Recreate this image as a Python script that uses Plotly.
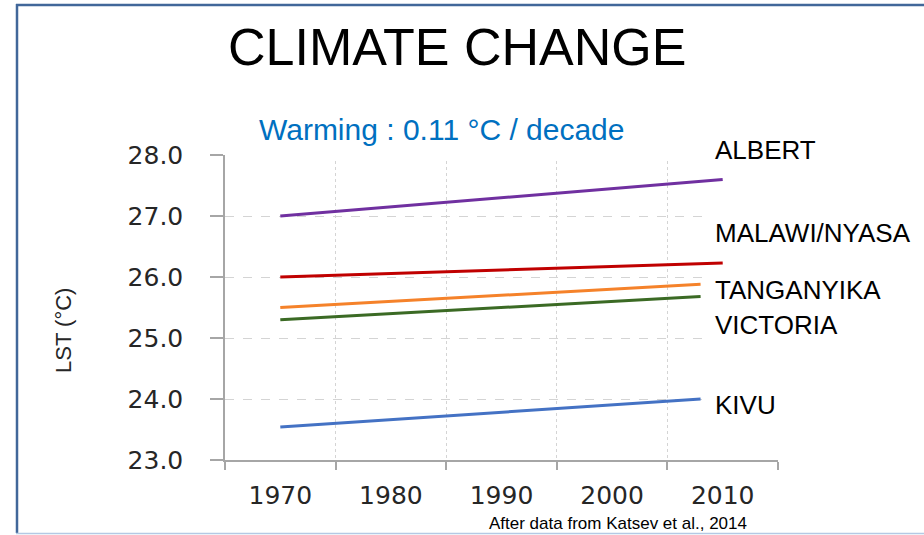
import plotly.graph_objects as go

# ---- data ----
lakes = ["ALBERT", "MALAWI/NYASA", "TANGANYIKA", "VICTORIA", "KIVU"]
start_year = [1970, 1970, 1970, 1970, 1970]
end_year = [2010, 2010, 2008, 2008, 2008]
lst_start = [27.0, 26.0, 25.5, 25.3, 23.54]
lst_end = [27.6, 26.23, 25.88, 25.68, 24.0]
colors = ["#7030A0", "#C00000", "#F5822A", "#3B6A24", "#4472C4"]
decade_labels = ["1970", "1980", "1990", "2000", "2010"]
decade_vals = [1970, 1980, 1990, 2000, 2010]
boundary_vals = [1965, 1975, 1985, 1995, 2005, 2015]
y_vals = [23, 24, 25, 26, 27, 28]
y_text = ["23.0", "24.0", "25.0", "26.0", "27.0", "28.0"]
label_y_px = [150, 233, 290, 325, 405]

W, H = 924, 535
L, R, T, B = 225, 778, 155, 460


def px2x(px):
    return (px - L) / (R - L)


def px2y(py):
    return (B - py) / (B - T)


SANS = "Liberation Sans, Arial, sans-serif"
TICKFONT = "DejaVu Sans, Verdana, sans-serif"

fig = go.Figure()
for name, x0, x1, y0, y1, c in zip(lakes, start_year, end_year, lst_start, lst_end, colors):
    fig.add_trace(go.Scatter(x=[x0, x1], y=[y0, y1], mode="lines", name=name,
                             line=dict(color=c, width=3), showlegend=False,
                             hoverinfo="skip"))

axis_col = "#A6A6A6"
grid_col = "#D4D4D4"

fig.update_layout(
    width=W, height=H, autosize=False,
    margin=dict(l=L, r=W - R, t=T, b=H - B, pad=0),
    paper_bgcolor="white", plot_bgcolor="white",
    showlegend=False,
    xaxis=dict(
        range=[1965, 2015], tickmode="array", tickvals=decade_vals, ticktext=decade_labels,
        ticks="", showgrid=False, zeroline=False,
        showline=True, linecolor=axis_col, linewidth=1.5,
        tickfont=dict(family=TICKFONT, size=25, color="#262626"),
        ticklabelstandoff=12,
        minor=dict(tickmode="array", tickvals=boundary_vals, ticks="outside", ticklen=8,
                   tickcolor=axis_col, tickwidth=1.5, showgrid=True, gridcolor=grid_col,
                   griddash="dot", gridwidth=1),
    ),
    yaxis=dict(
        range=[23, 28], tickmode="array", tickvals=y_vals, ticktext=y_text,
        ticks="outside", ticklen=13, tickcolor=axis_col, tickwidth=1.5,
        showgrid=True, gridcolor=grid_col, griddash="dash", gridwidth=1,
        zeroline=False, showline=True, linecolor=axis_col, linewidth=1.5,
        tickfont=dict(family=TICKFONT, size=25, color="#262626"),
        ticklabelstandoff=22,
    ),
)

annotations = [
    dict(text="CLIMATE CHANGE", x=px2x(457), y=px2y(47), xanchor="center", yanchor="middle",
         font=dict(family=SANS, size=52, color="black")),
    dict(text="Warming : 0.11 °C / decade", x=px2x(442), y=px2y(129), xanchor="center",
         yanchor="middle", font=dict(family=SANS, size=30, color="#0070C0")),
    dict(text="LST (°C)", x=px2x(63), y=px2y(331), textangle=-90, xanchor="center",
         yanchor="middle", font=dict(family=SANS, size=22, color="#262626")),
    dict(text="After data from Katsev et al., 2014", x=px2x(618), y=px2y(523),
         xanchor="center", yanchor="middle", font=dict(family=SANS, size=17, color="black")),
]
for name, py in zip(lakes, label_y_px):
    annotations.append(dict(text=name, x=px2x(709), y=px2y(py), xanchor="left", yanchor="middle",
                            bgcolor="white", borderpad=5,
                            font=dict(family=SANS, size=26, color="black")))
for a in annotations:
    a.update(xref="paper", yref="paper", showarrow=False)
fig.update_layout(annotations=annotations)

shapes = [
    # white band hiding the top grid line under the subtitle
    dict(type="rect", xref="paper", yref="paper", x0=px2x(250), x1=px2x(709),
         y0=px2y(161), y1=px2y(110), fillcolor="white", line=dict(width=0), layer="above"),
    # frame
    dict(type="line", xref="paper", yref="paper", x0=px2x(17), x1=px2x(17),
         y0=px2y(533), y1=px2y(4), line=dict(color="#41679A", width=2.5)),
    dict(type="line", xref="paper", yref="paper", x0=px2x(16), x1=px2x(930),
         y0=px2y(5), y1=px2y(5), line=dict(color="#41679A", width=2.5)),
    dict(type="line", xref="paper", yref="paper", x0=px2x(16), x1=px2x(930),
         y0=px2y(533.5), y1=px2y(533.5), line=dict(color="#B4C9E4", width=1.5)),
]
fig.update_layout(shapes=shapes)

fig.write_html("out.html", config={"displayModeBar": False},
               post_script="document.body.style.margin='0';document.body.style.overflow='hidden';")
